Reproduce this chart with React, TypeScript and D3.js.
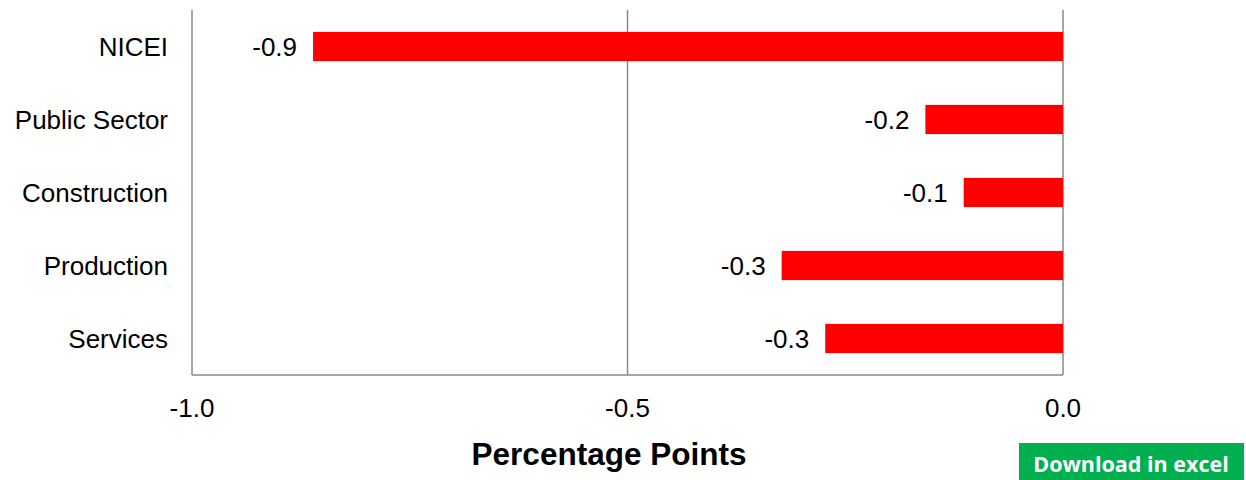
import React, { useEffect, useRef } from 'react';
import * as d3 from 'd3';

const categories = ['NICEI', 'Public Sector', 'Construction', 'Production', 'Services'];
const values = [-0.861, -0.158, -0.114, -0.323, -0.273];
const xTicks = [-1.0, -0.5, 0.0];

const W = 1246;
const H = 480;

export default function App() {
  const svgRef = useRef<SVGSVGElement>(null);

  useEffect(() => {
    if (!svgRef.current) return;
    const svg = d3.select(svgRef.current);
    svg.selectAll('*').remove();

    const font = '"Liberation Sans", Arial, sans-serif';
    const x = d3.scaleLinear().domain([-1, 0]).range([192, 1063]);
    const y = d3.scaleBand<string>()
      .domain(categories)
      .range([10, 375])
      .paddingInner(0.6)
      .paddingOuter(0.3);

    const grid = '#898989';

    // vertical gridlines
    svg.append('g')
      .selectAll('line')
      .data(xTicks)
      .enter()
      .append('line')
      .attr('x1', d => x(d))
      .attr('x2', d => x(d))
      .attr('y1', 10)
      .attr('y2', 375)
      .attr('stroke', grid)
      .attr('stroke-width', 1.5);

    // bottom axis line
    svg.append('line')
      .attr('x1', x(-1))
      .attr('x2', x(0))
      .attr('y1', 375)
      .attr('y2', 375)
      .attr('stroke', grid)
      .attr('stroke-width', 1.5);

    // bars
    svg.selectAll('.bar')
      .data(values)
      .enter()
      .append('rect')
      .attr('class', 'bar')
      .attr('x', d => x(d))
      .attr('width', d => x(0) - x(d))
      .attr('y', (_d, i) => y(categories[i]) || 0)
      .attr('height', y.bandwidth())
      .attr('fill', '#ff0000');

    // value labels
    svg.selectAll('.value')
      .data(values)
      .enter()
      .append('text')
      .attr('class', 'value')
      .attr('x', d => x(d) - 16)
      .attr('y', (_d, i) => (y(categories[i]) || 0) + y.bandwidth() / 2 + 9)
      .attr('text-anchor', 'end')
      .attr('font-family', font)
      .attr('font-size', 26)
      .attr('fill', '#000')
      .text(d => d.toFixed(1));

    // category labels
    svg.selectAll('.cat')
      .data(categories)
      .enter()
      .append('text')
      .attr('class', 'cat')
      .attr('x', 168)
      .attr('y', d => (y(d) || 0) + y.bandwidth() / 2 + 9)
      .attr('text-anchor', 'end')
      .attr('font-family', font)
      .attr('font-size', 26)
      .attr('fill', '#000')
      .text(d => d);

    // x tick labels
    svg.selectAll('.tick-label')
      .data(xTicks)
      .enter()
      .append('text')
      .attr('class', 'tick-label')
      .attr('x', d => x(d))
      .attr('y', 417)
      .attr('text-anchor', 'middle')
      .attr('font-family', font)
      .attr('font-size', 26)
      .attr('fill', '#000')
      .text(d => d.toFixed(1));

    // axis title
    svg.append('text')
      .attr('x', 609)
      .attr('y', 465)
      .attr('text-anchor', 'middle')
      .attr('font-family', font)
      .attr('font-size', 31.5)
      .attr('font-weight', 'bold')
      .attr('fill', '#000')
      .text('Percentage Points');

    // download button
    svg.append('rect')
      .attr('x', 1019)
      .attr('y', 443)
      .attr('width', 225)
      .attr('height', 42)
      .attr('fill', '#00b050');
    svg.append('text')
      .attr('x', 1131)
      .attr('y', 472)
      .attr('text-anchor', 'middle')
      .attr('font-family', '"Open Sans", sans-serif')
      .attr('font-size', 21.5)
      .attr('font-weight', 'bold')
      .attr('fill', '#fff')
      .text('Download in excel');
  }, []);

  return (
    <svg
      ref={svgRef}
      width={W}
      height={H}
      style={{ position: 'absolute', left: 0, top: 0, background: '#fff' }}
    />
  );
}
